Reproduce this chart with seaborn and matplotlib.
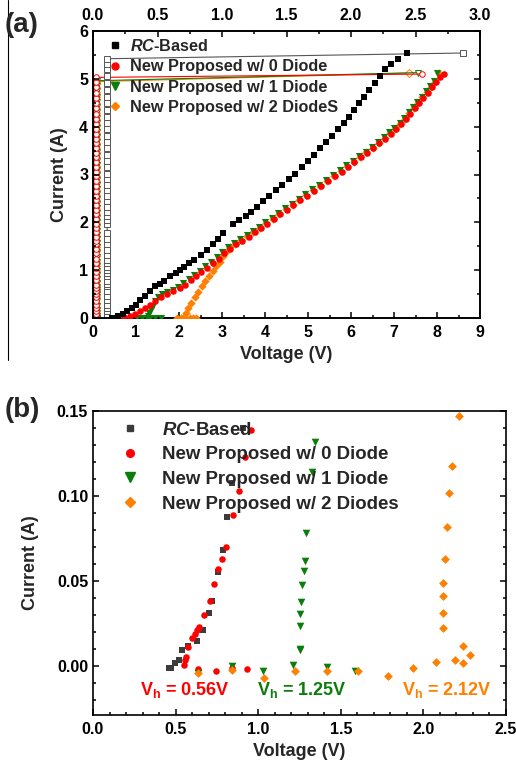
import numpy as np
import pandas as pd
import matplotlib
matplotlib.use('Agg')
import matplotlib.pyplot as plt
import seaborn as sns
from matplotlib.lines import Line2D
from matplotlib.ticker import MultipleLocator, FormatStrFormatter

# ---------------- data: panel (a) TLP I-V ----------------
rc_v = [0.45, 0.50, 0.58, 0.70, 0.80, 0.90, 1.00, 1.09, 1.20, 1.33,
        1.45, 1.55, 1.65, 1.80, 1.92, 2.02, 2.12, 2.24, 2.36, 2.50,
        2.64, 2.78, 2.90, 3.02, 3.26, 3.40, 3.55, 3.68, 3.82, 3.96,
        4.10, 4.25, 4.40, 4.55, 4.70, 4.85, 5.00, 5.14, 5.28, 5.42,
        5.56, 5.70, 5.83, 5.95, 6.07, 6.19, 6.31, 6.43, 6.55, 6.67,
        6.80, 6.94, 7.10, 7.30]
rc_i = [0.00, 0.01, 0.04, 0.09, 0.14, 0.20, 0.28, 0.37, 0.46, 0.57,
        0.66, 0.72, 0.78, 0.87, 0.94, 1.00, 1.07, 1.15, 1.22, 1.32,
        1.42, 1.54, 1.65, 1.77, 1.97, 2.05, 2.14, 2.22, 2.32, 2.45,
        2.56, 2.67, 2.79, 2.90, 3.02, 3.15, 3.28, 3.41, 3.55, 3.68,
        3.81, 3.95, 4.08, 4.21, 4.35, 4.49, 4.63, 4.77, 4.91, 5.06,
        5.20, 5.31, 5.42, 5.54]
rc_leak = [0.11, 0.11, 0.11, 0.11, 0.11, 0.11, 0.11, 0.11, 0.11, 0.11,
           0.11, 0.11, 0.11, 0.11, 0.11, 0.11, 0.11, 0.11, 0.11, 0.11,
           0.11, 0.11, 0.11, 0.11, 0.11, 0.11, 0.11, 0.11, 0.11, 0.11,
           0.11, 0.11, 0.11, 0.11, 0.11, 0.11, 0.11, 0.11, 0.11, 0.11,
           0.11, 0.11, 0.11, 0.11, 0.11, 0.11, 0.11, 0.11, 0.11, 0.11,
           0.11, 0.11, 0.11, 2.87]

d0_v = [0.55, 0.62, 0.72, 0.85, 0.98, 1.10, 1.22, 1.33, 1.45, 1.58,
        1.72, 1.87, 2.02, 2.14, 2.27, 2.40, 2.52, 2.65, 2.78, 2.92,
        3.05, 3.18, 3.32, 3.47, 3.62, 3.76, 3.90, 4.05, 4.20, 4.35,
        4.50, 4.66, 4.82, 4.98, 5.14, 5.30, 5.46, 5.62, 5.78, 5.93,
        6.08, 6.23, 6.38, 6.52, 6.66, 6.80, 6.93, 7.05, 7.17, 7.28,
        7.38, 7.48, 7.58, 7.68, 7.78, 7.88, 7.98, 8.07, 8.16]
d0_i = [0.00, 0.01, 0.02, 0.05, 0.09, 0.14, 0.20, 0.27, 0.35, 0.43,
        0.50, 0.56, 0.62, 0.70, 0.79, 0.87, 0.96, 1.05, 1.14, 1.24,
        1.35, 1.45, 1.54, 1.62, 1.70, 1.79, 1.88, 1.97, 2.07, 2.17,
        2.26, 2.36, 2.46, 2.56, 2.66, 2.76, 2.86, 2.96, 3.06, 3.16,
        3.26, 3.36, 3.45, 3.55, 3.65, 3.75, 3.85, 3.95, 4.05, 4.16,
        4.27, 4.38, 4.49, 4.60, 4.71, 4.82, 4.93, 5.03, 5.10]
d0_leak = [0.025, 0.025, 0.025, 0.025, 0.025, 0.025, 0.025, 0.025, 0.025, 0.025,
           0.025, 0.025, 0.025, 0.025, 0.025, 0.025, 0.025, 0.025, 0.025, 0.025,
           0.025, 0.025, 0.025, 0.025, 0.025, 0.025, 0.025, 0.025, 0.025, 0.025,
           0.025, 0.025, 0.025, 0.025, 0.025, 0.025, 0.025, 0.025, 0.025, 0.025,
           0.025, 0.025, 0.025, 0.025, 0.025, 0.025, 0.025, 0.025, 0.025, 0.025,
           0.025, 0.025, 0.025, 0.025, 0.025, 0.025, 0.025, 0.025, 2.55]

d1_v = [1.02, 1.15, 1.32, 1.45, 1.58, 1.25, 1.27, 1.30, 1.34, 1.39,
        1.45, 1.52, 1.60, 1.72, 1.85, 1.97, 2.10, 2.23, 2.36, 2.48,
        2.61, 2.74, 2.88, 3.01, 3.14, 3.28, 3.43, 3.58, 3.72, 3.86,
        4.01, 4.16, 4.31, 4.46, 4.62, 4.78, 4.94, 5.10, 5.26, 5.42,
        5.58, 5.74, 5.89, 6.04, 6.19, 6.34, 6.48, 6.62, 6.76, 6.89,
        7.01, 7.13, 7.24, 7.34, 7.44, 7.54, 7.64, 7.74, 7.84, 7.93,
        8.00]
d1_i = [0.00, 0.00, 0.00, 0.00, 0.00, 0.01, 0.05, 0.10, 0.17, 0.26,
        0.35, 0.44, 0.50, 0.55, 0.59, 0.65, 0.73, 0.82, 0.90, 0.99,
        1.08, 1.17, 1.27, 1.38, 1.48, 1.57, 1.65, 1.73, 1.82, 1.91,
        2.00, 2.10, 2.20, 2.29, 2.39, 2.49, 2.59, 2.69, 2.79, 2.89,
        2.99, 3.09, 3.19, 3.29, 3.39, 3.48, 3.58, 3.68, 3.78, 3.88,
        3.98, 4.08, 4.19, 4.30, 4.41, 4.52, 4.63, 4.74, 4.85, 4.96,
        5.13]
d1_leak = [0.03, 0.03, 0.03, 0.03, 0.03, 0.03, 0.03, 0.03, 0.03, 0.03,
           0.03, 0.03, 0.03, 0.03, 0.03, 0.03, 0.03, 0.03, 0.03, 0.03,
           0.03, 0.03, 0.03, 0.03, 0.03, 0.03, 0.03, 0.03, 0.03, 0.03,
           0.03, 0.03, 0.03, 0.03, 0.03, 0.03, 0.03, 0.03, 0.03, 0.03,
           0.03, 0.03, 0.03, 0.03, 0.03, 0.03, 0.03, 0.03, 0.03, 0.03,
           0.03, 0.03, 0.03, 0.03, 0.03, 0.03, 0.03, 0.03, 0.03, 0.03,
           2.52]

d2_v = [1.95, 2.05, 2.15, 2.25, 2.33, 2.40, 2.12, 2.16, 2.22, 2.29,
        2.37, 2.45, 2.53, 2.61, 2.69, 2.78, 2.87, 2.95, 3.03, 3.11,
        3.19, 3.30, 3.44, 3.59, 3.73, 3.88, 4.03, 4.18, 4.33, 4.48,
        4.64, 4.80, 4.96, 5.12, 5.28, 5.44, 5.60, 5.76, 5.91, 6.06,
        6.21, 6.36, 6.50, 6.64, 6.78, 6.91, 7.03, 7.15, 7.26, 7.36,
        7.46, 7.56, 7.66, 7.76, 7.86, 7.96, 8.05]
d2_i = [0.00, 0.00, 0.00, 0.00, 0.00, 0.00, 0.03, 0.10, 0.20, 0.31,
        0.43, 0.55, 0.66, 0.77, 0.88, 0.98, 1.08, 1.18, 1.29, 1.40,
        1.48, 1.55, 1.63, 1.71, 1.80, 1.89, 1.98, 2.08, 2.18, 2.27,
        2.37, 2.47, 2.57, 2.67, 2.77, 2.87, 2.97, 3.07, 3.17, 3.27,
        3.37, 3.46, 3.56, 3.66, 3.76, 3.86, 3.96, 4.06, 4.17, 4.28,
        4.39, 4.50, 4.61, 4.72, 4.83, 4.94, 5.12]
d2_leak = [0.02, 0.02, 0.02, 0.02, 0.02, 0.02, 0.02, 0.02, 0.02, 0.02,
           0.02, 0.02, 0.02, 0.02, 0.02, 0.02, 0.02, 0.02, 0.02, 0.02,
           0.02, 0.02, 0.02, 0.02, 0.02, 0.02, 0.02, 0.02, 0.02, 0.02,
           0.02, 0.02, 0.02, 0.02, 0.02, 0.02, 0.02, 0.02, 0.02, 0.02,
           0.02, 0.02, 0.02, 0.02, 0.02, 0.02, 0.02, 0.02, 0.02, 0.02,
           0.02, 0.02, 0.02, 0.02, 0.02, 0.02, 2.45]

# ---------------- data: panel (b) zoom near holding voltage ----------------
rcb_v = [0.463, 0.475, 0.497, 0.518, 0.537, 0.577, 0.628, 0.664, 0.702, 0.720,
         0.757, 0.785, 0.809, 0.840, 0.908]
rcb_i = [-0.0016, -0.0012, 0.0016, 0.0035, 0.0090, 0.0118, 0.0147, 0.0210, 0.0310, 0.0380,
         0.0550, 0.0680, 0.0878, 0.1075, 0.1400]
d0b_v = [0.638, 0.745, 0.840, 0.930, 0.551, 0.557, 0.565, 0.577, 0.597, 0.617,
         0.628, 0.643, 0.674, 0.708, 0.734, 0.755, 0.779, 0.803, 0.846, 0.884,
         0.920, 0.955]
d0b_i = [-0.0020, -0.0030, -0.0014, -0.0020, 0.0006, 0.0035, 0.0050, 0.0110, 0.0163, 0.0188,
         0.0208, 0.0230, 0.0300, 0.0380, 0.0480, 0.0570, 0.0630, 0.0700, 0.0888, 0.1030,
         0.1230, 0.1390]
d1b_v = [0.638, 0.840, 1.031, 1.210, 1.415, 1.586, 1.253, 1.255, 1.253, 1.253,
         1.257, 1.267, 1.277, 1.283, 1.290, 1.324, 1.344]
d1b_i = [-0.0043, -0.0004, -0.0033, 0.0006, -0.0008, -0.0033, 0.0094, 0.0100, 0.0235, 0.0306,
         0.0378, 0.0476, 0.0555, 0.0614, 0.0780, 0.1140, 0.1320]
d2b_v = [0.638, 0.840, 1.037, 1.223, 1.415, 1.606, 1.788, 1.940, 2.076, 2.190,
         2.240, 2.280, 2.240, 2.120, 2.117, 2.117, 2.120, 2.130, 2.145, 2.157,
         2.171, 2.217]
d2b_i = [-0.0043, -0.0024, -0.0072, -0.0033, -0.0033, -0.0033, -0.0063, -0.0014, 0.0025, 0.0035,
         0.0016, 0.0065, 0.0118, 0.0225, 0.0310, 0.0408, 0.0486, 0.0626, 0.0816, 0.1016,
         0.1176, 0.1470]

labels_a = [r"$\mathit{RC}$-Based", "New Proposed w/ 0 Diode",
            "New Proposed w/ 1 Diode", "New Proposed w/ 2 DiodeS"]
labels_b = [r"$\mathit{RC}$-Based", "New Proposed w/ 0 Diode",
            "New Proposed w/ 1 Diode", "New Proposed w/ 2 Diodes"]
vh_texts = ["0.56V", "1.25V", "2.12V"]

# ---------------- style ----------------
sns.set_style('ticks')
plt.rcParams['font.family'] = ['Liberation Sans', 'DejaVu Sans']
plt.rcParams['font.weight'] = 'bold'
plt.rcParams['axes.labelweight'] = 'bold'
plt.rcParams['mathtext.fontset'] = 'custom'
plt.rcParams['mathtext.rm'] = 'Liberation Sans:bold'
plt.rcParams['mathtext.bf'] = 'Liberation Sans:bold'
plt.rcParams['mathtext.it'] = 'Liberation Sans:bold:italic'

RED = '#ff0000'
GREEN = '#0a7d0a'
ORANGE = '#ff8000'
BLACK = '#000000'
GRAY = '#3c3c3c'

W, H = 516, 774
fig = plt.figure(figsize=(W / 100, H / 100), dpi=100)
ax1 = fig.add_axes([93 / W, 1 - 318 / H, 387 / W, 287 / H])
ax2 = fig.add_axes([93 / W, 1 - 715 / H, 413 / W, 304 / H])

def style_axis(ax):
    for sp in ax.spines.values():
        sp.set_linewidth(1.2)
        sp.set_color('black')
    ax.tick_params(which='both', direction='in', width=1.1, colors='black',
                   labelsize=11.5)
    ax.tick_params(which='major', length=4)
    ax.tick_params(which='minor', length=2.5)

# ---------------- panel (a) ----------------
ax1t = ax1.twiny()
leak_sets = [(d2_leak, d2_i, ORANGE, 'D', 3.6), (d1_leak, d1_i, GREEN, 'v', 4.0),
             (d0_leak, d0_i, RED, 'o', 4.0), (rc_leak, rc_i, '#555555', 's', 4.0)]
for lx, ly, c, m, ms in leak_sets:
    sns.lineplot(x=lx, y=ly, ax=ax1t, sort=False, estimator=None, errorbar=None,
                 color=c, lw=0.8, marker=m, markersize=ms, markerfacecolor='white',
                 markeredgecolor=c, markeredgewidth=0.7, legend=False)

iv_sets = [(d2_v, d2_i, ORANGE, 'D', 18), (d1_v, d1_i, GREEN, 'v', 26),
           (d0_v, d0_i, RED, 'o', 22), (rc_v, rc_i, BLACK, 's', 16)]
for vx, iy, c, m, s in iv_sets:
    sns.scatterplot(x=vx, y=iy, ax=ax1, color=c, marker=m, s=s, linewidth=0,
                    legend=False, zorder=3)

ax1.set_xlim(0, 9)
ax1.set_ylim(0, 6)
ax1t.set_xlim(0, 3)
ax1t.set_ylim(0, 6)
ax1.xaxis.set_major_locator(MultipleLocator(1))
ax1.xaxis.set_minor_locator(MultipleLocator(0.5))
ax1.yaxis.set_major_locator(MultipleLocator(1))
ax1.yaxis.set_minor_locator(MultipleLocator(0.5))
ax1t.xaxis.set_major_locator(MultipleLocator(0.5))
ax1t.xaxis.set_minor_locator(MultipleLocator(0.25))
ax1t.xaxis.set_major_formatter(FormatStrFormatter('%.1f'))
style_axis(ax1)
style_axis(ax1t)
ax1.tick_params(which='both', top=False, right=True, labelright=False)
ax1.tick_params(axis='x', pad=5)
ax1t.tick_params(axis='x', pad=6)
ax1.set_xlabel('Voltage (V)', fontsize=13, fontweight='bold', labelpad=4)
ax1.set_ylabel('Current (A)', fontsize=13, fontweight='bold', labelpad=8)
ax1t.set_xlabel('')
ax1.set_zorder(ax1t.get_zorder() + 1)
ax1.patch.set_visible(False)

h_a = [Line2D([], [], ls='none', marker='s', color=BLACK, ms=4.5),
       Line2D([], [], ls='none', marker='o', color=RED, ms=5),
       Line2D([], [], ls='none', marker='v', color=GREEN, ms=5.5),
       Line2D([], [], ls='none', marker='D', color=ORANGE, ms=4.5)]
leg_a = ax1.legend(h_a, labels_a, loc='upper left', bbox_to_anchor=(0.04, 0.976),
                   frameon=False, fontsize=11.7, handlelength=0.8, handletextpad=0.55,
                   labelspacing=0.33, borderpad=0, borderaxespad=0)

# ---------------- panel (b) ----------------
b_sets = [(rcb_v, rcb_i, GRAY, 's', 22), (d0b_v, d0b_i, RED, 'o', 22),
          (d1b_v, d1b_i, GREEN, 'v', 30), (d2b_v, d2b_i, ORANGE, 'D', 20)]
for vx, iy, c, m, s in b_sets:
    sns.scatterplot(x=vx, y=iy, ax=ax2, color=c, marker=m, s=s, linewidth=0,
                    legend=False, zorder=3)
ax2.set_xlim(0, 2.5)
ax2.set_ylim(-0.029, 0.15)
ax2.xaxis.set_major_locator(MultipleLocator(0.5))
ax2.xaxis.set_minor_locator(MultipleLocator(0.1))
ax2.yaxis.set_major_locator(MultipleLocator(0.05))
ax2.yaxis.set_minor_locator(MultipleLocator(0.01))
ax2.xaxis.set_major_formatter(FormatStrFormatter('%.1f'))
ax2.yaxis.set_major_formatter(FormatStrFormatter('%.2f'))
style_axis(ax2)
ax2.tick_params(which='both', top=False, right=True, labelright=False)
ax2.tick_params(axis='x', pad=5)
ax2.set_xlabel('Voltage (V)', fontsize=13, fontweight='bold', labelpad=4)
ax2.set_ylabel('Current (A)', fontsize=13, fontweight='bold', labelpad=13)

h_b = [Line2D([], [], ls='none', marker='s', color=GRAY, ms=5),
       Line2D([], [], ls='none', marker='o', color=RED, ms=5.5),
       Line2D([], [], ls='none', marker='v', color=GREEN, ms=6.5),
       Line2D([], [], ls='none', marker='D', color=ORANGE, ms=5)]
leg_b = ax2.legend(h_b, labels_b, loc='upper left', bbox_to_anchor=(0.067, 0.965),
                   frameon=False, fontsize=13.4, handlelength=1.0, handletextpad=1.2,
                   labelspacing=0.41, borderpad=0, borderaxespad=0)

vh_pos = [(0.285, RED), (0.99, GREEN), (1.868, ORANGE)]
for (xv, c), t in zip(vh_pos, vh_texts):
    ax2.text(xv, -0.0141, r"V$_{\mathrm{h}}$ = " + t, color=c, fontsize=13,
             fontweight='bold', va='center', ha='left')

# ---------------- figure decorations ----------------
fig.text(5 / W, 1 - 25 / H, '(a)', fontsize=20, fontweight='bold', va='center', ha='left')
fig.text(5 / W, 1 - 410 / H, '(b)', fontsize=20, fontweight='bold', va='center', ha='left')
fig.add_artist(Line2D([8 / W, 8 / W], [1, 1 - 360 / H], color='black', lw=0.8,
                      transform=fig.transFigure))

fig.savefig('out.png', dpi=100)
